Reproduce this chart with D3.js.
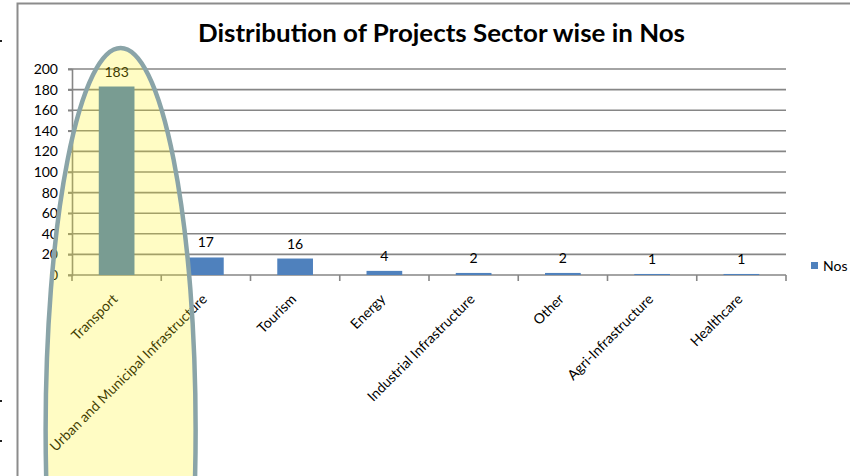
<!DOCTYPE html>
<html>
<head>
<meta charset="utf-8">
<script src="https://cdn.jsdelivr.net/npm/d3@7"></script>
<style>
  body { margin: 0; background: #fff; }
  text { font-family: Lato, "Open Sans", sans-serif; }
</style>
</head>
<body>
<div id="chart"></div>
<script>
// data
const sectors = ["Transport", "Urban and Municipal Infrastructure", "Tourism", "Energy",
  "Industrial Infrastructure", "Other", "Agri-Infrastructure", "Healthcare"]
const nos = [183, 17, 16, 4, 2, 2, 1, 1]
const yTicks = [0, 20, 40, 60, 80, 100, 120, 140, 160, 180, 200]
const seriesName = "Nos"

const W = 850, H = 476
const PLOT = { LEFT: 72, RIGHT: 786, TOP: 69, BOTTOM: 275 }

const svg = d3.select("#chart").append("svg")
  .attr("width", W).attr("height", H)

// outer chart border (top and left visible)
svg.append("path")
  .attr("d", `M17.5,${H} L17.5,3.5 L${W},3.5`)
  .attr("fill", "none").attr("stroke", "#8c8c8c").attr("stroke-width", 2)

// stray marks at the left edge
;[40, 400, 440].forEach(y => {
  svg.append("rect").attr("x", 0).attr("y", y).attr("width", 2).attr("height", 2).attr("fill", "#222")
})

svg.append("text")
  .attr("x", 198).attr("y", 42)
  .attr("font-size", 25).attr("font-weight", "bold")
  .attr("textLength", 487).attr("lengthAdjust", "spacingAndGlyphs")
  .text("Distribution of Projects Sector wise in Nos")

const x = d3.scaleBand().domain(sectors).range([PLOT.LEFT, PLOT.RIGHT]).paddingInner(0.6).paddingOuter(0.3)
const xTick = d3.scaleBand().domain(sectors).range([PLOT.LEFT, PLOT.RIGHT])
const y = d3.scaleLinear().domain([0, 200]).range([PLOT.BOTTOM, PLOT.TOP])

// gridlines
svg.append("g").selectAll("line").data(yTicks.slice(1)).join("line")
  .attr("x1", PLOT.LEFT - 4).attr("x2", PLOT.RIGHT)
  .attr("y1", d => y(d)).attr("y2", d => y(d))
  .attr("stroke", "#868686").attr("stroke-width", 1.6)

// y axis
const yAxis = svg.append("g").attr("transform", `translate(${PLOT.LEFT},0)`)
  .call(d3.axisLeft(y).tickValues(yTicks).tickSize(4).tickPadding(10))
yAxis.selectAll("line, path").attr("stroke", "#868686").attr("stroke-width", 1.6)
yAxis.selectAll("text").attr("font-size", 14).attr("fill", "#000")
  .style("font-family", "Lato, sans-serif")

// x axis
const xAxis = svg.append("g").attr("transform", `translate(0,${PLOT.BOTTOM})`)
xAxis.append("line").attr("x1", PLOT.LEFT - 4).attr("x2", PLOT.RIGHT)
  .attr("stroke", "#868686").attr("stroke-width", 1.6)
xAxis.selectAll("line.tk").data(sectors.concat(["_end"])).join("line")
  .attr("class", "tk")
  .attr("x1", (d, i) => i < sectors.length ? xTick(d) : PLOT.RIGHT)
  .attr("x2", (d, i) => i < sectors.length ? xTick(d) : PLOT.RIGHT)
  .attr("y1", 0).attr("y2", 6)
  .attr("stroke", "#868686").attr("stroke-width", 1.6)

svg.append("g").selectAll("text").data(sectors).join("text")
  .attr("transform", d => `translate(${xTick(d) + xTick.bandwidth() / 2 + 2},${PLOT.BOTTOM + 25}) rotate(-45)`)
  .attr("text-anchor", "end")
  .attr("font-size", 14)
  .text(d => d)

// bars
svg.append("g").selectAll("rect").data(nos).join("rect")
  .attr("x", (d, i) => x(sectors[i]))
  .attr("width", x.bandwidth())
  .attr("y", d => y(d))
  .attr("height", d => y(0) - y(d))
  .attr("fill", "#4f81bd")

// data labels
svg.append("g").selectAll("text").data(nos).join("text")
  .attr("x", (d, i) => x(sectors[i]) + x.bandwidth() / 2)
  .attr("y", d => y(d) - 10)
  .attr("text-anchor", "middle")
  .attr("font-size", 14)
  .text(d => d)

// legend
svg.append("rect").attr("x", 811).attr("y", 262).attr("width", 7).attr("height", 7).attr("fill", "#4f81bd")
svg.append("text").attr("x", 823).attr("y", 271).attr("font-size", 14).text(seriesName)

// highlight ellipse round the Transport bar
svg.append("ellipse")
  .attr("cx", x("Transport") + x.bandwidth() / 2 + 4)
  .attr("cy", 430).attr("rx", 75).attr("ry", 382)
  .attr("fill", "rgb(255,244,13)").attr("fill-opacity", 0.244)
  .attr("stroke", "#8aa4a8").attr("stroke-width", 4.5)
</script>
</body>
</html>
